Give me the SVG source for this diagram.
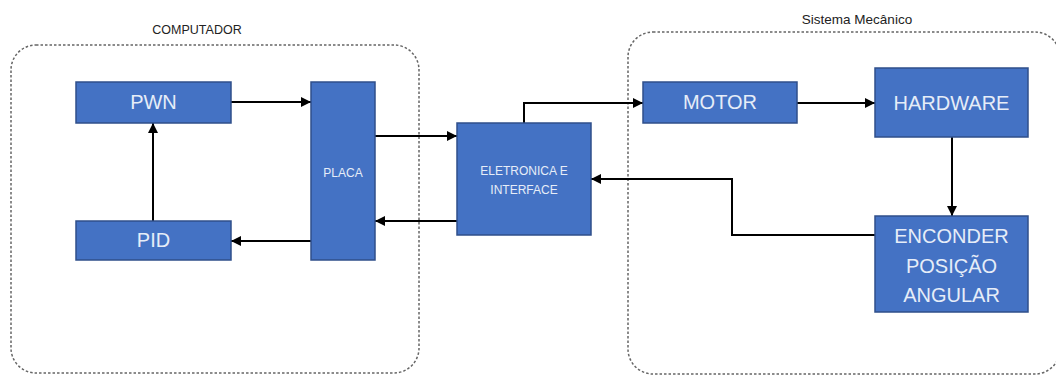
<svg xmlns="http://www.w3.org/2000/svg" width="1056" height="376" viewBox="0 0 1056 376">
<style>
.box{fill:#4472C4;stroke:#2F4F8A;stroke-width:1.5}
.t{font-family:"Liberation Sans",Arial,sans-serif;fill:#E6EDF8;text-anchor:middle}
.big{font-size:20px}
.sm{font-size:12px}
.lbl{font-family:"Liberation Sans",Arial,sans-serif;fill:#222;text-anchor:middle}
.grp{fill:none;stroke:#666;stroke-width:1.5;stroke-dasharray:2.5 2}
.c{fill:none;stroke:#000;stroke-width:2;marker-end:url(#ah)}
</style>
<defs>
<marker id="ah" markerUnits="userSpaceOnUse" markerWidth="12" markerHeight="10" refX="10" refY="5" orient="auto">
<path d="M0,0 L10,5 L0,10 z" fill="#000"/>
</marker>
</defs>
<g id="computador">
<rect class="grp" x="11" y="45" width="408" height="328" rx="25"/>
<text class="lbl" x="197" y="34" font-size="12.5">COMPUTADOR</text>
</g>
<g id="sistema">
<rect class="grp" x="628" y="32" width="432" height="342" rx="25"/>
<text class="lbl" x="857" y="24" font-size="13.5">Sistema Mecânico</text>
</g>
<g id="connectors">
<path class="c" d="M231,102 L311,102"/>
<path class="c" d="M153,221 L153,123"/>
<path class="c" d="M375,136 L457,136"/>
<path class="c" d="M457,221 L375,221"/>
<path class="c" d="M311,241 L231,241"/>
<path class="c" d="M524,123 L524,103 L643,103"/>
<path class="c" d="M797,103 L875,103"/>
<path class="c" d="M952,137 L952,216"/>
<path class="c" d="M875,235 L732,235 L732,179 L591,179"/>
</g>
<g id="pwn">
<rect class="box" x="76" y="82" width="155" height="41"/>
<text class="t big" x="153.5" y="109">PWN</text>
</g>
<g id="pid">
<rect class="box" x="76" y="221" width="155" height="39"/>
<text class="t big" x="153.5" y="247">PID</text>
</g>
<g id="placa">
<rect class="box" x="311" y="82" width="64" height="178"/>
<text class="t sm" x="343" y="177">PLACA</text>
</g>
<g id="eletronica">
<rect class="box" x="457" y="123" width="134" height="112"/>
<text class="t sm" x="524" y="175">ELETRONICA E</text>
<text class="t sm" x="524" y="194">INTERFACE</text>
</g>
<g id="motor">
<rect class="box" x="643" y="82" width="154" height="41"/>
<text class="t big" x="720" y="109">MOTOR</text>
</g>
<g id="hardware">
<rect class="box" x="875" y="68" width="153" height="69"/>
<text class="t big" x="951.5" y="110">HARDWARE</text>
</g>
<g id="encoder">
<rect class="box" x="875" y="216" width="153" height="96"/>
<text class="t big" x="951.5" y="243">ENCONDER</text>
<text class="t big" x="951.5" y="273">POSIÇÃO</text>
<text class="t big" x="951.5" y="302">ANGULAR</text>
</g>
</svg>
